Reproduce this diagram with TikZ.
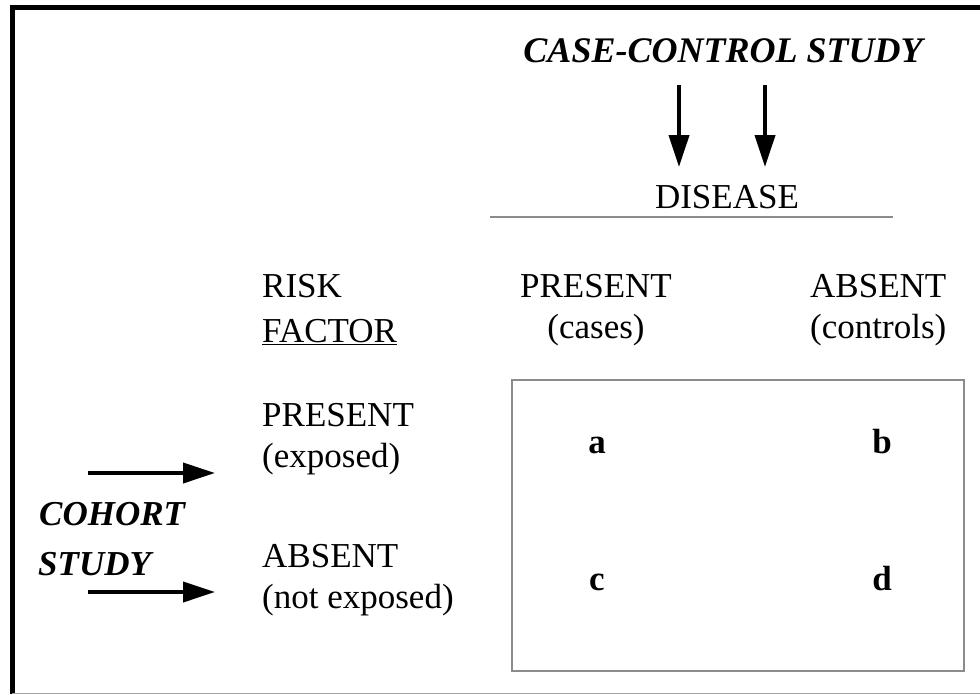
\documentclass[tikz,border=0pt]{standalone}
\usepackage{fontspec}
\setmainfont{Liberation Serif}
\usetikzlibrary{arrows.meta}

\begin{document}
\begin{tikzpicture}[x=1pt,y=-1pt,
                    every node/.style={inner sep=0pt,font=\fontsize{35}{41}\selectfont},
                    studylabel/.style={font=\fontsize{35}{41}\selectfont\bfseries\itshape},
                    cell/.style={font=\fontsize{35}{41}\selectfont\bfseries},
                    bigarrow/.style={line width=4pt,-{Triangle[length=32pt,width=20pt]}},
                    rule/.style={draw=black!45,line width=1.6pt}]

                    \useasboundingbox (0,0) rectangle (980,694);
                    % frame
                    \draw[line width=5pt] (12.5,694) -- (12.5,7.5) -- (980,7.5);
                    \draw[black!35,line width=1pt] (12,693) -- (980,693);

                    % case-control side
                    \node[studylabel,font=\fontsize{36}{41}\selectfont\bfseries\itshape,anchor=base] (cc) at (723,62) {CASE-CONTROL STUDY};
                    \coordinate (cca) at (679,85);
                    \coordinate (ccb) at (765,85);
                    \node[anchor=base] (disease) at (727,208) {DISEASE};
                    \draw[bigarrow] (cca) -- (cca |- 0,167);
                    \draw[bigarrow] (ccb) -- (ccb |- 0,167);
                    \draw[rule] (490,217) -- (893,217);

                    % base anchor sits on the last line
                    \node[anchor=base,align=center] (cases) at (596,338) {PRESENT\\(cases)};
                    \node[anchor=base west,align=left] (controls) at (810,338) {ABSENT\\(controls)};

                    % risk factor side
                    \node[anchor=base west,align=left,font=\fontsize{35}{45}\selectfont] (risk) at (262,342) {RISK\\\underline{FACTOR}};
                    \node[anchor=base west,align=left] (exposed) at (262,467) {PRESENT\\(exposed)};
                    \node[anchor=base west,align=left] (unexposed) at (262,608) {ABSENT\\(not exposed)};

                    \node[studylabel,anchor=base west] (cohort) at (39,525) {COHORT};
                    \node[studylabel,anchor=base west] (cohortb) at (38,575) {STUDY};
                    \coordinate (coa) at (88,473);
                    \coordinate (cob) at (88,592);
                    \draw[bigarrow] (coa) -- (coa -| 215,0);
                    \draw[bigarrow] (cob) -- (cob -| 215,0);

                    % 2x2 table
                    \node[rule,minimum width=452pt,minimum height=291pt] (table) at (738,525.5) {};
                    \node[cell,anchor=base] (a) at (597,453) {a};
                    \node[cell,anchor=base] (b) at (882,453) {b};
                    \node[cell,anchor=base] (c) at (597,590) {c};
                    \node[cell,anchor=base] (d) at (882,590) {d};
                \end{tikzpicture}
\end{document}
